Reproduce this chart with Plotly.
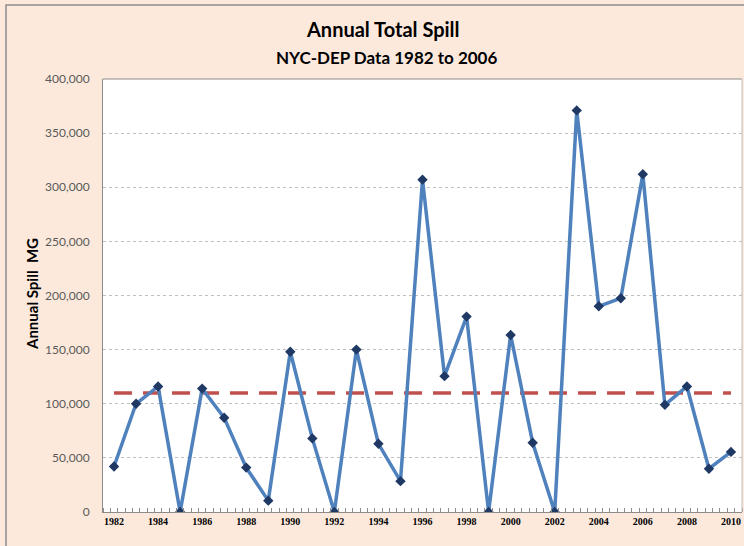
import plotly.graph_objects as go

years = list(range(1982, 2011))
spill = [42000, 100000, 116000, 0, 114000, 87000, 41000, 10500, 148000, 68000,
         0, 150000, 63000, 28500, 307000, 125500, 180500, 0, 163500, 64000,
         0, 371000, 190000, 197500, 312000, 99000, 116000, 40000, 55500]
avg_level = 110000
avg_years = [1982, 2010]
y_ticks = [0, 50000, 100000, 150000, 200000, 250000, 300000, 350000, 400000]
x_ticks = list(range(1982, 2011, 2))

fig = go.Figure()
fig.add_trace(go.Scatter(
    x=avg_years, y=[avg_level] * len(avg_years), mode="lines",
    line=dict(color="#C0504D", width=3.5, dash="18px,11px"),
    hoverinfo="skip", showlegend=False))
fig.add_trace(go.Scatter(
    x=years, y=spill, mode="lines+markers",
    line=dict(color="#4F81BD", width=3.5),
    marker=dict(symbol="diamond", size=8, color="#1F3864"),
    showlegend=False))

W, H = 744, 546
pl, pr, pt, pb = 103, 2, 79, 34
pw, ph = W - pl - pr, H - pt - pb


def px(x):
    return (x - pl) / pw


def py(y):
    return (H - pb - y) / ph


fig.update_layout(
    width=W, height=H,
    margin=dict(l=pl, r=pr, t=pt, b=pb),
    paper_bgcolor="#FCE9DC",
    plot_bgcolor="#FFFFFF",
    font=dict(family="Lato, Calibri, sans-serif", color="#000000"),
)

fig.add_annotation(text="<b>Annual Total Spill</b>", x=px(383), y=py(29), xref="paper", yref="paper",
                   showarrow=False, font=dict(size=20, color="#000"), xanchor="center", yanchor="middle")
fig.add_annotation(text="<b>NYC-DEP Data 1982 to 2006</b>", x=px(386), y=py(58), xref="paper", yref="paper",
                   showarrow=False, font=dict(size=17, color="#000"), xanchor="center", yanchor="middle")
fig.add_annotation(text="<b>Annual Spill  MG</b>", x=px(32), y=py(294), xref="paper", yref="paper",
                   showarrow=False, textangle=-90, font=dict(size=15, color="#000"),
                   xanchor="center", yanchor="middle")
fig.add_shape(type="rect", xref="paper", yref="paper",
              x0=px(6), x1=px(760), y0=py(5), y1=py(560),
              line=dict(color="#8C8C8C", width=1.5), layer="below")

fig.update_xaxes(
    range=[1981.5, 2010.5], tickvals=x_ticks, ticktext=["<b>%d</b>" % v for v in x_ticks],
    showgrid=False, zeroline=False, showline=True, linecolor="#8C8C8C", linewidth=1,
    ticks="", tickfont=dict(family="Liberation Serif, serif", size=10, color="#000"),
    minor=dict(ticks="inside", ticklen=4, tickcolor="#8C8C8C", dtick=1/3, tick0=1981.5, showgrid=False),
)
fig.update_yaxes(
    range=[0, 400000], tickvals=y_ticks, tickformat=",d",
    showgrid=True, gridcolor="#BFBFBF", griddash="dot", gridwidth=1,
    zeroline=False, showline=True, linecolor="#8C8C8C", linewidth=1,
    ticks="", ticklabelstandoff=10,
    tickfont=dict(family="Lato, Calibri, sans-serif", size=12, color="#595959"),
)
fig.add_shape(type="line", xref="paper", yref="paper", x0=0, x1=1, y0=1, y1=1,
              line=dict(color="#8C8C8C", width=1))
fig.add_shape(type="line", xref="paper", yref="paper", x0=1, x1=1, y0=0, y1=1,
              line=dict(color="#BFBFBF", width=1))

fig.write_html("out.html")
